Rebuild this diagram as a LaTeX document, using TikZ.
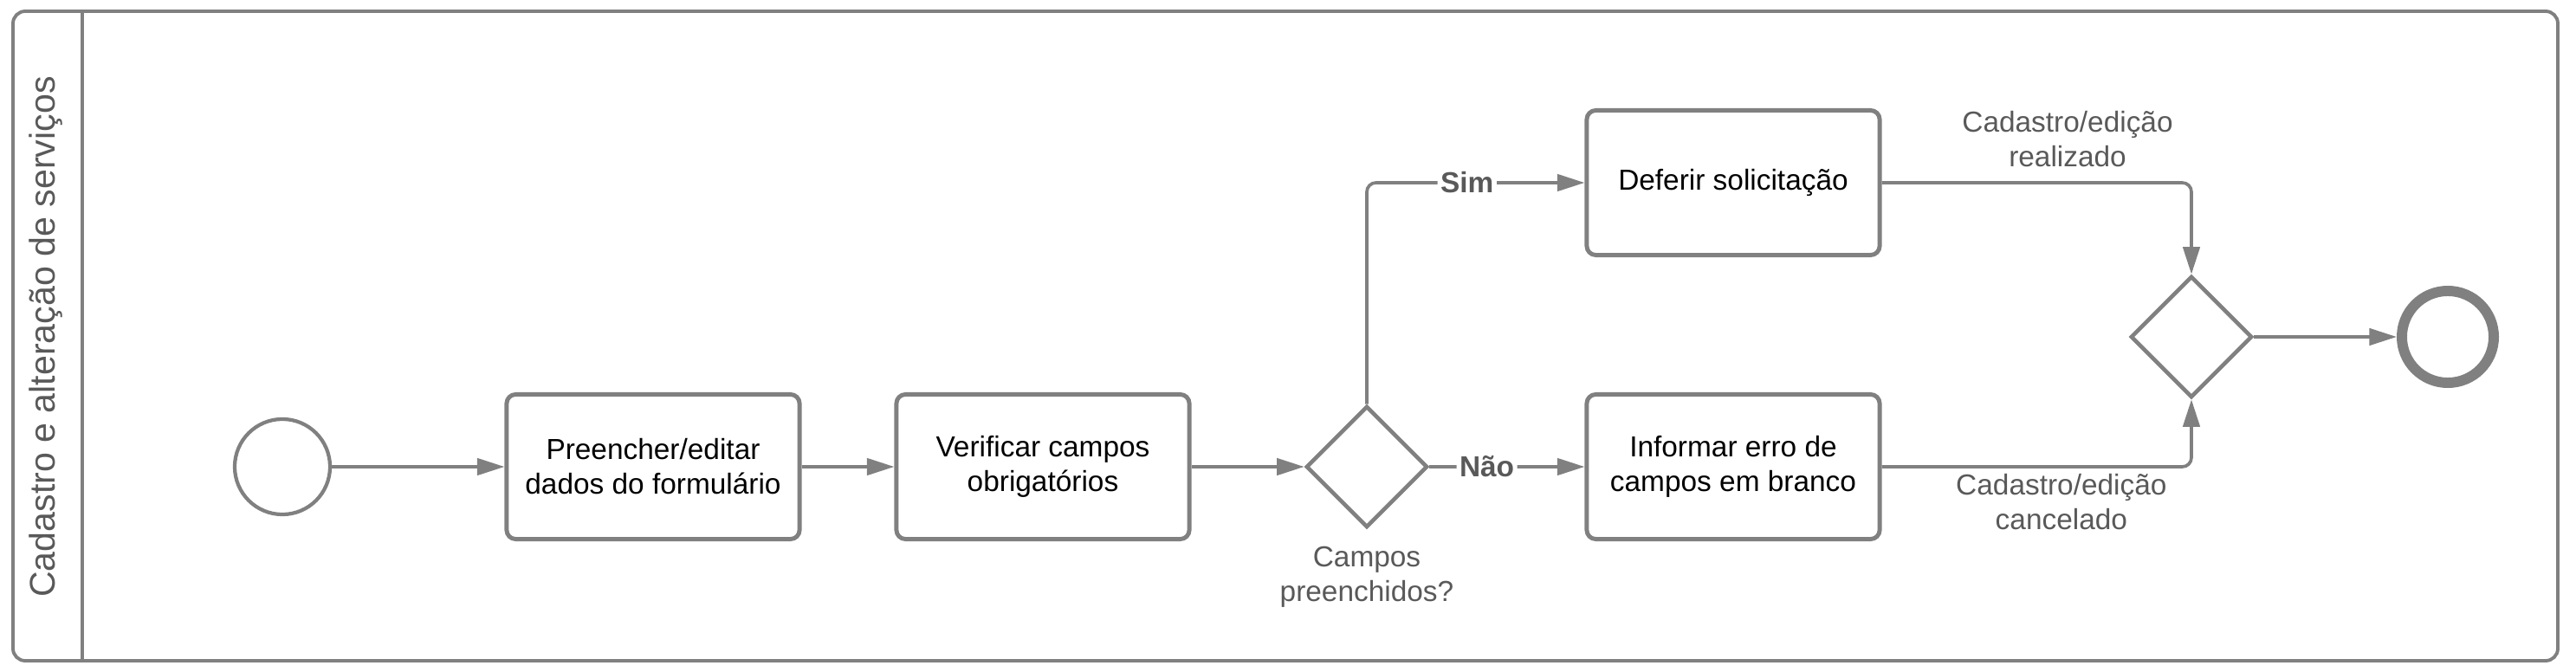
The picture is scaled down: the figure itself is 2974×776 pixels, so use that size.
\documentclass[tikz,border=0pt]{standalone}
\usepackage{fontspec}
\setmainfont{Liberation Sans}
\usetikzlibrary{shapes.geometric,arrows.meta,positioning}

\definecolor{linegray}{RGB}{128,128,128}
\definecolor{textgray}{RGB}{89,89,89}

\begin{document}
\begin{tikzpicture}[x=0.01cm,y=-0.01cm,
    task/.style={rectangle,rounded corners=3pt,draw=linegray,line width=1.4pt,
        minimum width=3.38cm,minimum height=1.67cm,align=center,
        font=\fontsize{9.5}{11.4}\selectfont},
    gate/.style={diamond,draw=linegray,line width=1.3pt,inner sep=0pt,
        minimum width=1.4cm,minimum height=1.4cm},
    flow/.style={draw=linegray,line width=1.05pt,rounded corners=3pt,
        -{Triangle[length=9pt,width=5.5pt]}},
    lbl/.style={text=textgray,align=center,font=\fontsize{9.5}{11.4}\selectfont},
    choice/.style={text=textgray,fill=white,inner sep=1pt,
        font=\fontsize{9.5}{11.4}\selectfont\bfseries}]
        \useasboundingbox (0,0) rectangle (2974,776);

        % pool and lane
        \draw[linegray,line width=1.1pt,rounded corners=4pt] (15,13) rectangle (2953,763);
        \draw[linegray,line width=1.1pt] (95,13) -- (95,763);
        \node[lbl,rotate=90,font=\fontsize{11.7}{14}\selectfont] (lane) at (53,389) {Cadastro e alteração de serviços};

        \node[circle,draw=linegray,line width=1.2pt,inner sep=0pt,minimum size=1.1cm] (S) at (326,539) {};
        \node[task] (T1) at (754,539) {Preencher/editar\\dados do formulário};
        \node[task] (T2) at (1204,539) {Verificar campos\\obrigatórios};
        \node[gate] (G1) at (1578,539) {};
        \node[lbl] (G1L) [below=2pt of G1] {Campos\\preenchidos?};
        \node[task] (T3) at (2001,211) {Deferir solicitação};
        \node[task] (T4) at (2001,539) {Informar erro de\\campos em branco};
        \node[gate] (G2) at (2530,389) {};
        \node[circle,draw=linegray,line width=3.4pt,inner sep=0pt,minimum size=1.06cm] (E) at (2826,389) {};

        \draw[flow] (S) -- (T1);
        \draw[flow] (T1) -- (T2);
        \draw[flow] (T2) -- (G1);
        \draw[flow] (G1.north) |- node[choice,pos=0.73] {Sim} (T3.west);
        \draw[flow] (G1.east) -- node[choice,pos=0.37] {Não} (T4.west);
        \draw[flow] (T3.east) -| node[lbl,above=1.2pt,pos=0.3] {Cadastro/edição\\realizado} (G2.north);
        \draw[flow] (T4.east) -| node[lbl,below=-1.5pt,pos=0.29] {Cadastro/edição\\cancelado} (G2.south);
        \draw[flow] (G2.east) -- (E);
    \end{tikzpicture}
\end{document}
